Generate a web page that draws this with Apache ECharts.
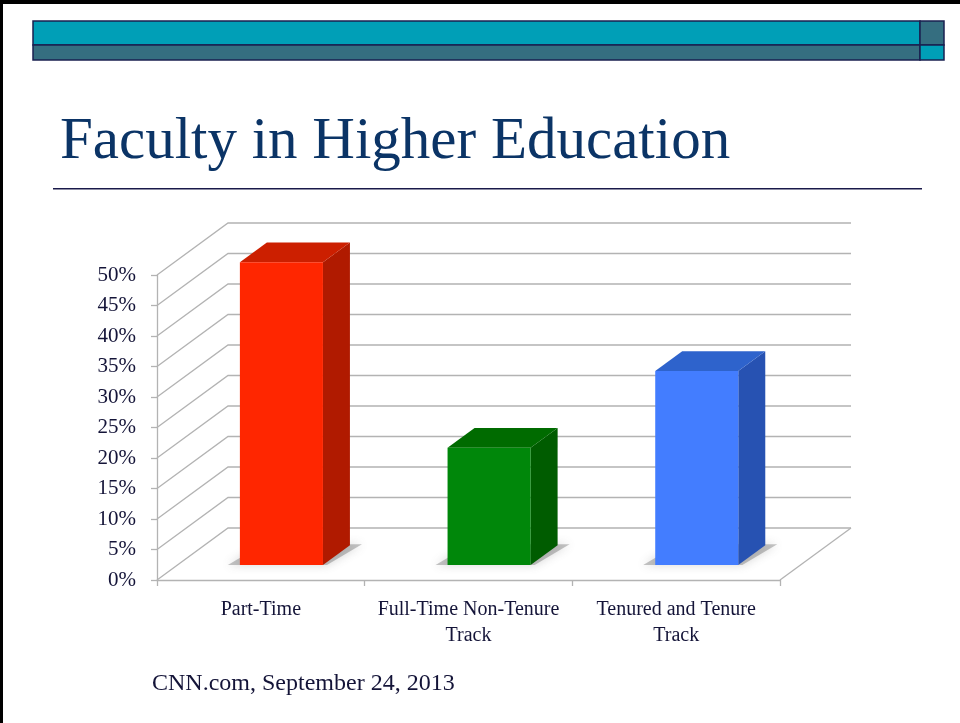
<!DOCTYPE html>
<html>
<head>
<meta charset="utf-8">
<script src="https://cdn.jsdelivr.net/npm/echarts@6/dist/echarts.min.js"></script>
<style>
html,body{margin:0;padding:0;background:#fff;}
#c{width:960px;height:723px;}
</style>
</head>
<body>
<div id="c"></div>
<script>
// ---- data ----
var categories = ['Part-Time', 'Full-Time Non-Tenure\nTrack', 'Tenured and Tenure\nTrack'];
var values = [49.6, 19.2, 31.8];
var yTicks = [0, 5, 10, 15, 20, 25, 30, 35, 40, 45, 50];
var titleText = 'Faculty in Higher Education';
var sourceText = 'CNN.com, September 24, 2013';

// ---- styles ----
var faceColors = [
  {front: '#ff2600', top: '#cc1f00', side: '#b01a00'},
  {front: '#00870a', top: '#006b00', side: '#005c00'},
  {front: '#437dff', top: '#2e63cc', side: '#2752b2'}
];
var DEPTH_X = 71, DEPTH_Y = 52;     // wall depth in px
var BAR_OFF = 0.29, BAR_DEPTH = 0.38; // fraction of depth
var BAR_W = 0.40;                    // fraction of band
var gridColor = '#b3b3b3';
var serif = '"Liberation Serif", "Times New Roman", serif';

var chart = echarts.init(document.getElementById('c'), null, {renderer: 'canvas'});

function wallItem(params, api) {
  var v = api.value(0);
  var band = api.size([1, 0])[0];
  var n = categories.length;
  var pL = api.coord([0, v]);
  var pR = api.coord([n - 1, v]);
  var xL = pL[0] - band / 2, xR = pR[0] + band / 2, y = pL[1];
  var children = [
    {type: 'polyline', shape: {points: [[xL, y], [xL + DEPTH_X, y - DEPTH_Y], [xR + DEPTH_X, y - DEPTH_Y]]},
     style: {stroke: gridColor, lineWidth: 1.3, fill: null}}
  ];
  if (v === 0) {
    children.push({type: 'line', shape: {x1: xR, y1: y, x2: xR + DEPTH_X, y2: y - DEPTH_Y},
      style: {stroke: gridColor, lineWidth: 1.3}});
  }
  return {type: 'group', children: children, silent: true};
}

function barItem(params, api) {
  var i = api.value(0), v = api.value(1);
  var band = api.size([1, 0])[0];
  var c = api.coord([i, v]);
  var c0 = api.coord([i, 0]);
  var offX = BAR_OFF * DEPTH_X, offY = BAR_OFF * DEPTH_Y;
  var dX = BAR_DEPTH * DEPTH_X, dY = BAR_DEPTH * DEPTH_Y;
  var w = band * BAR_W;
  var x0 = c[0] + offX - w / 2, x1 = x0 + w;
  var yt = c[1] - offY, yb = c0[1] - offY;
  var col = faceColors[i % faceColors.length];
  return {
    type: 'group',
    children: [
      {type: 'polygon', shape: {points: [[x0 - 12, yb], [x1 + 4, yb], [x1 + dX + 12, yb - dY - 1], [x0 + dX - 4, yb - dY - 1]]},
       style: {fill: 'rgba(90,90,90,0.35)', shadowBlur: 10, shadowColor: 'rgba(90,90,90,0.7)'}},
      {type: 'polygon', shape: {points: [[x1, yt], [x1 + dX, yt - dY], [x1 + dX, yb - dY], [x1, yb]]},
       style: {fill: col.side}},
      {type: 'polygon', shape: {points: [[x0, yt], [x1, yt], [x1 + dX, yt - dY], [x0 + dX, yt - dY]]},
       style: {fill: col.top}},
      {type: 'rect', shape: {x: x0, y: yt, width: w, height: yb - yt},
       style: {fill: col.front}}
    ]
  };
}

var option = {
  backgroundColor: '#ffffff',
  animation: false,
  grid: {left: 157, right: 180, top: 275, bottom: 143, containLabel: false},
  xAxis: {
    type: 'category',
    data: categories,
    axisLine: {show: true, lineStyle: {color: gridColor, width: 1.3}},
    axisTick: {show: true, length: 6, lineStyle: {color: gridColor, width: 1.3}},
    axisLabel: {color: '#141438', fontFamily: serif, fontSize: 20, lineHeight: 26, margin: 17, interval: 0}
  },
  yAxis: {
    type: 'value',
    min: 0, max: 50, interval: 5,
    axisLine: {show: true, lineStyle: {color: gridColor, width: 1.3}},
    axisTick: {show: true, length: 6, lineStyle: {color: gridColor, width: 1.3}},
    splitLine: {show: false},
    axisLabel: {color: '#141438', fontFamily: serif, fontSize: 21, margin: 21, formatter: '{value}%'}
  },
  series: [
    {type: 'custom', renderItem: wallItem, data: yTicks.map(function (t) { return [t]; }),
     encode: {y: 0}, z: 1, silent: true},
    {type: 'custom', renderItem: barItem, data: values.map(function (v, i) { return [i, v]; }),
     encode: {x: 0, y: 1}, z: 3}
  ],
  graphic: [
    // slide frame
    {type: 'rect', shape: {x: 0, y: 0, width: 960, height: 4}, style: {fill: '#000'}, silent: true},
    {type: 'rect', shape: {x: 0, y: 0, width: 3, height: 723}, style: {fill: '#000'}, silent: true},
    // header bars
    {type: 'rect', shape: {x: 33, y: 21, width: 887, height: 24}, style: {fill: '#009fb7', stroke: '#1a2050', lineWidth: 1.5}, silent: true},
    {type: 'rect', shape: {x: 33, y: 45, width: 887, height: 15}, style: {fill: '#356e80', stroke: '#1a2050', lineWidth: 1.5}, silent: true},
    {type: 'rect', shape: {x: 920, y: 21, width: 24, height: 24}, style: {fill: '#356e80', stroke: '#1a2050', lineWidth: 1.5}, silent: true},
    {type: 'rect', shape: {x: 920, y: 45, width: 24, height: 15}, style: {fill: '#009fb7', stroke: '#1a2050', lineWidth: 1.5}, silent: true},
    // title
    {type: 'text', left: 60, top: 113, style: {text: titleText, fill: '#0b3466', font: '59px ' + serif}, silent: true},
    {type: 'rect', shape: {x: 53, y: 188, width: 869, height: 1.5}, style: {fill: '#1a1a4a'}, silent: true},
    // source
    {type: 'text', left: 152, top: 672, style: {text: sourceText, fill: '#141438', font: '24px ' + serif}, silent: true}
  ]
};
chart.setOption(option);
</script>
</body>
</html>
